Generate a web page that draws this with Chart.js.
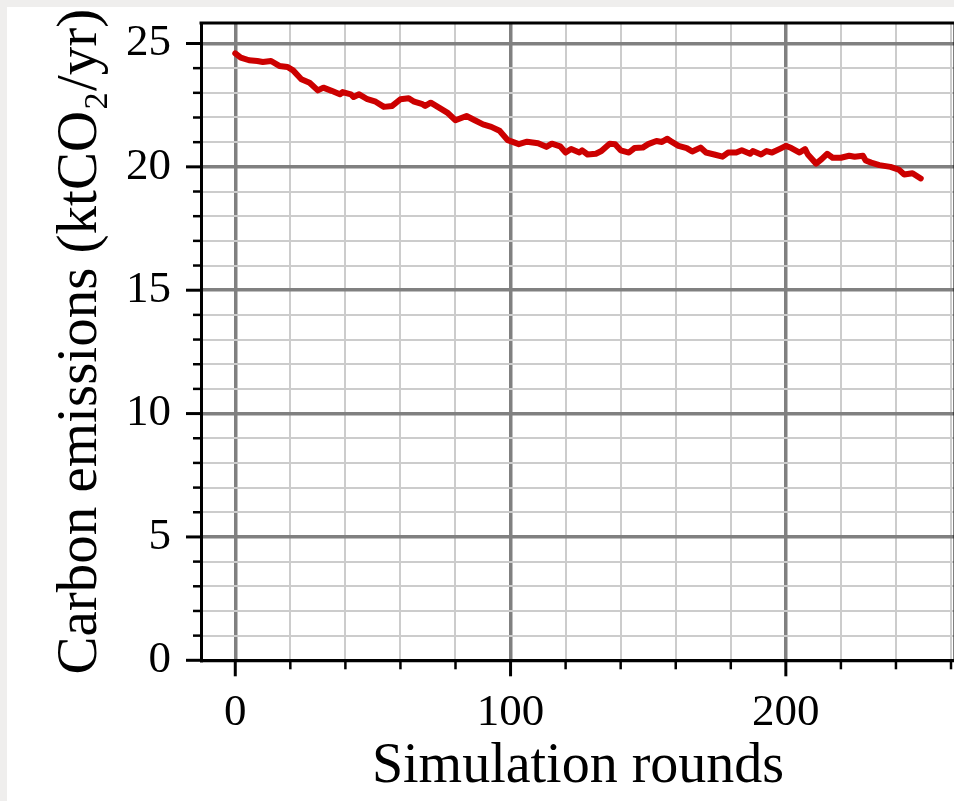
<!DOCTYPE html>
<html>
<head>
<meta charset="utf-8">
<script src="https://cdn.jsdelivr.net/npm/chart.js@4/dist/chart.umd.min.js"></script>
<style>
  html, body { margin: 0; padding: 0; background: #efeeed; overflow: hidden; width: 954px; height: 801px; }
  #wrap { position: absolute; left: 7px; top: 7px; width: 960px; height: 794px; background: #ffffff; }
  canvas { display: block; }
</style>
</head>
<body>
<div id="wrap"><canvas id="c" width="960" height="794"></canvas></div>
<script>
// ---- data ----
const rounds = [0, 2, 5, 8, 10, 13, 16, 19, 21, 24, 27, 30, 32, 35, 38, 39, 42, 43, 45, 48,
  51, 54, 57, 60, 63, 65, 68, 69, 71, 74, 77, 80, 84, 87, 90, 93, 96, 99, 103, 106,
  110, 113, 115, 118, 120, 122, 125, 126, 128, 131, 133, 136, 138, 140, 143, 145, 148, 150, 153, 155,
  157, 158, 161, 164, 166, 169, 171, 174, 177, 179, 182, 184, 187, 188, 191, 193, 195, 198, 200, 202,
  205, 207, 208, 211, 213, 215, 217, 220, 223, 225, 228, 229, 231, 234, 238, 241, 243, 246, 249];
const emissions = [24.60, 24.43, 24.32, 24.29, 24.25, 24.29, 24.09, 24.05, 23.91, 23.55, 23.41, 23.10, 23.21, 23.08, 22.94, 23.03, 22.94, 22.83, 22.94, 22.74,
  22.64, 22.43, 22.47, 22.74, 22.78, 22.64, 22.54, 22.47, 22.60, 22.40, 22.20, 21.89, 22.06, 21.89, 21.72, 21.62, 21.46, 21.08, 20.92, 21.02,
  20.96, 20.81, 20.94, 20.83, 20.58, 20.72, 20.58, 20.67, 20.50, 20.53, 20.64, 20.94, 20.92, 20.67, 20.58, 20.76, 20.78, 20.92, 21.05, 21.01,
  21.14, 21.05, 20.85, 20.76, 20.62, 20.78, 20.58, 20.50, 20.41, 20.58, 20.58, 20.67, 20.53, 20.64, 20.50, 20.64, 20.58, 20.74, 20.85, 20.76,
  20.58, 20.72, 20.50, 20.13, 20.31, 20.53, 20.37, 20.37, 20.45, 20.41, 20.45, 20.26, 20.17, 20.07, 20.00, 19.89, 19.69, 19.74, 19.53];
const xTickLabels = [0, 100, 200];
const yTickLabels = [0, 5, 10, 15, 20, 25];
const xTitle = 'Simulation rounds';
const yTitle = 'Carbon emissions (ktCO\u2082/yr)';

const FONT = "'Liberation Serif', 'Times New Roman', serif";

const tickMarks = {
  id: 'tickMarks',
  afterDraw(chart) {
    const ctx = chart.ctx, xs = chart.scales.x, ys = chart.scales.y, ca = chart.chartArea;
    ctx.save();
    ctx.strokeStyle = '#000';
    ctx.lineCap = 'butt';
    xs.ticks.forEach(t => {
      const p = xs.getPixelForValue(t.value);
      const major = xTickLabels.includes(t.value);
      ctx.lineWidth = major ? 3 : 2.5;
      ctx.beginPath(); ctx.moveTo(p, ca.bottom); ctx.lineTo(p, ca.bottom + (major ? 16 : 9)); ctx.stroke();
    });
    ys.ticks.forEach(t => {
      const p = ys.getPixelForValue(t.value);
      const major = yTickLabels.includes(t.value);
      ctx.lineWidth = major ? 3 : 2.5;
      ctx.beginPath(); ctx.moveTo(ca.left, p); ctx.lineTo(ca.left - (major ? 15 : 8), p); ctx.stroke();
    });
    ctx.lineWidth = 3;
    ctx.beginPath(); ctx.moveTo(ca.left - 1.5, ca.top); ctx.lineTo(ca.right + 1.5, ca.top); ctx.stroke();
    ctx.beginPath(); ctx.moveTo(ca.right, ca.top); ctx.lineTo(ca.right, ca.bottom); ctx.stroke();
    ctx.restore();
  }
};

new Chart(document.getElementById('c'), {
  type: 'line',
  data: {
    datasets: [{
      data: rounds.map((r, i) => ({ x: r, y: emissions[i] })),
      borderColor: '#cc0000',
      borderWidth: 6,
      pointRadius: 0,
      tension: 0,
      fill: false,
      borderJoinStyle: 'round',
      borderCapStyle: 'round'
    }]
  },
  options: {
    responsive: false,
    animation: false,
    devicePixelRatio: 1,
    layout: { padding: { top: 16, right: 12, left: 0, bottom: 0 } },
    plugins: { legend: { display: false }, tooltip: { enabled: false } },
    scales: {
      x: {
        type: 'linear',
        min: -12.45,
        max: 261.45,
        afterFit: s => { s.height = 140.7; s.paddingLeft = 0; s.paddingRight = 0; },
        ticks: {
          stepSize: 20,
          includeBounds: false,
          autoSkip: false,
          maxRotation: 0,
          padding: 26,
          color: '#000',
          font: { family: FONT, size: 45 },
          callback: v => xTickLabels.includes(v) ? String(v) : ''
        },
        grid: {
          drawTicks: false,
          color: c => (c.tick && xTickLabels.includes(c.tick.value)) ? '#808080' : '#cccccc',
          lineWidth: c => (c.tick && xTickLabels.includes(c.tick.value)) ? 3.5 : 2
        },
        border: { color: '#000', width: 3 },
        title: { display: true, text: xTitle, color: '#000', font: { family: FONT, size: 56 }, padding: { top: 0, bottom: 0 } }
      },
      y: {
        type: 'linear',
        min: 0,
        max: 25.83,
        afterFit: s => { s.width = 194; s.paddingTop = 0; s.paddingBottom = 0; },
        ticks: {
          stepSize: 1,
          includeBounds: false,
          autoSkip: false,
          padding: 30,
          color: '#000',
          font: { family: FONT, size: 45 },
          callback: v => yTickLabels.includes(v) ? String(v) : ''
        },
        grid: {
          drawTicks: false,
          color: c => (c.tick && yTickLabels.includes(c.tick.value)) ? '#808080' : '#cccccc',
          lineWidth: c => (c.tick && yTickLabels.includes(c.tick.value)) ? 3.5 : 2
        },
        border: { color: '#000', width: 3 },
        title: { display: true, text: yTitle, color: '#000', font: { family: FONT, size: 57 }, padding: { top: 40, bottom: 0 } }
      }
    }
  },
  plugins: [tickMarks]
});
</script>
</body>
</html>
